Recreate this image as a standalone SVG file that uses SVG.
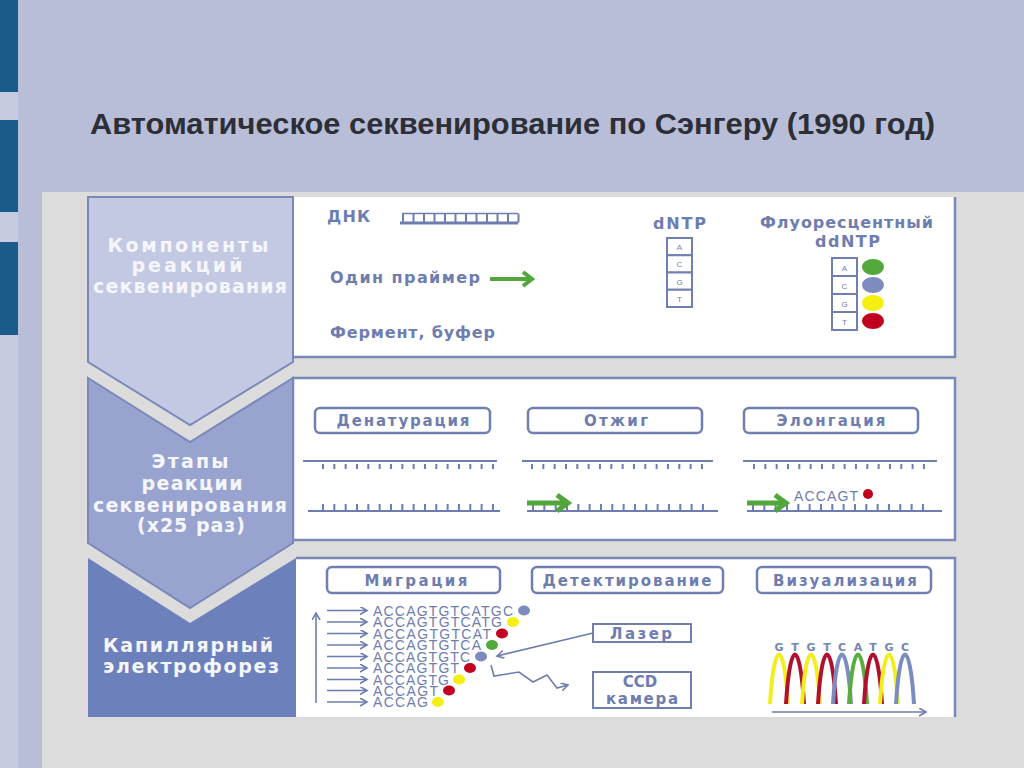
<svg xmlns="http://www.w3.org/2000/svg" width="1024" height="768" viewBox="0 0 1024 768">
<style>
.title{font-family:"Liberation Sans",Arial,sans-serif;font-weight:bold;font-size:29px;fill:#2d2f36}
.chev{font-family:"DejaVu Sans","Open Sans",sans-serif;font-weight:bold;font-size:19px;fill:#f5f6fb;text-anchor:middle}
.lbl{font-family:"DejaVu Sans","Open Sans",sans-serif;font-weight:bold;font-size:16px;fill:#6e7db0}
.btn{font-family:"DejaVu Sans","Open Sans",sans-serif;font-weight:bold;font-size:15px;fill:#6e7db0;text-anchor:middle}
.seq{font-family:"Liberation Sans",Arial,sans-serif;font-size:14px;fill:#6e7db0}
.small{font-family:"Liberation Sans",Arial,sans-serif;font-size:8px;fill:#6e7db0;text-anchor:middle}
.gl{font-family:"DejaVu Sans","Open Sans",sans-serif;font-weight:bold;font-size:11px;fill:#7584b5;text-anchor:middle}
.box{fill:#ffffff;stroke:#6f7fb1;stroke-width:2.5}
.strand{stroke:#6e7db0;stroke-width:2;fill:none}
.tick{stroke:#6e7db0;fill:none;stroke-dasharray:2 9.33}
.cell{fill:#ffffff;stroke:#6f7fb1;stroke-width:2}
.ar{stroke:#6e7db0;stroke-width:1.6;fill:none}
.grn{stroke:#52a63c;fill:none;stroke-linejoin:miter}
.peak{fill:none;stroke-width:4}
</style>
<defs>
<marker id="ah" markerUnits="userSpaceOnUse" markerWidth="10" markerHeight="10" refX="7" refY="4" orient="auto">
<path d="M0,0 L7,4 L0,8" fill="none" stroke="#6e7db0" stroke-width="1.6"/>
</marker>
</defs>
<!-- background -->
<rect x="0" y="0" width="1024" height="768" fill="#b9bed8"/>
<rect x="0" y="335" width="18" height="433" fill="#c6cbe0"/>
<rect x="0" y="0" width="18" height="92" fill="#1b5b8c"/>
<rect x="0" y="92" width="18" height="28" fill="#c6cbe0"/>
<rect x="0" y="120" width="18" height="92" fill="#1b5b8c"/>
<rect x="0" y="212" width="18" height="30" fill="#c6cbe0"/>
<rect x="0" y="242" width="18" height="93" fill="#1b5b8c"/>
<rect x="42" y="192" width="982" height="576" fill="#dcdcdc"/>
<text class="title" x="90" y="134" textLength="845" lengthAdjust="spacingAndGlyphs">Автоматическое секвенирование по Сэнгеру (1990 год)</text>

<!-- row 1 -->
<g id="row1">
<rect x="293" y="197" width="662" height="160" fill="#ffffff"/>
<path d="M955,197 V357 H293" fill="none" stroke="#7a88b9" stroke-width="2.5"/>
<path d="M88,197 L293,197 L293,362 L190,425 L88,362 Z" fill="#c4c9e3" stroke="#7a88b9" stroke-width="2"/>
<text class="chev" x="188" y="252" textLength="161" lengthAdjust="spacing">Компоненты</text>
<text class="chev" x="187" y="272" textLength="111" lengthAdjust="spacing">реакций</text>
<text class="chev" x="190" y="293" textLength="194" lengthAdjust="spacing">секвенирования</text>
</g>
<g id="dna-label">
<text class="lbl" x="327" y="222" font-size="14.5" textLength="43" lengthAdjust="spacing">ДНК</text>
<line x1="402" y1="213.5" x2="518" y2="213.5" stroke="#6e7db0" stroke-width="1.5"/>
<line x1="400" y1="223" x2="518" y2="223" stroke="#6e7db0" stroke-width="3"/>
<line x1="402" y1="218" x2="520" y2="218" stroke="#6e7db0" stroke-width="9" stroke-dasharray="2 8.5"/>
</g>
<g id="primer-label">
<text class="lbl" x="330" y="283" textLength="150" lengthAdjust="spacing">Один праймер</text>
<path class="grn" stroke-width="4" d="M490,279 H532 M523,272 L532,279 L523,286"/>
</g>
<g id="enzyme-label">
<text class="lbl" x="330" y="338" textLength="165" lengthAdjust="spacing">Фермент, буфер</text>
</g>
<g id="dntp">
<text class="lbl" x="653" y="229" textLength="53" lengthAdjust="spacing">dNTP</text>
<rect class="cell" x="667" y="238" width="25" height="17.25"/>
<rect class="cell" x="667" y="255.25" width="25" height="17.25"/>
<rect class="cell" x="667" y="272.5" width="25" height="17.25"/>
<rect class="cell" x="667" y="289.75" width="25" height="17.25"/>
<text class="small" x="679.5" y="250">A</text>
<text class="small" x="679.5" y="267">C</text>
<text class="small" x="679.5" y="284.5">G</text>
<text class="small" x="679.5" y="301.5">T</text>
</g>
<g id="ddntp">
<text class="lbl" x="760" y="228" textLength="173" lengthAdjust="spacing">Флуоресцентный</text>
<text class="lbl" x="815" y="247" textLength="65" lengthAdjust="spacing">ddNTP</text>
<rect class="cell" x="832" y="258" width="25" height="18"/>
<rect class="cell" x="832" y="276" width="25" height="18"/>
<rect class="cell" x="832" y="294" width="25" height="18"/>
<rect class="cell" x="832" y="312" width="25" height="18"/>
<text class="small" x="844.5" y="270.5">A</text>
<text class="small" x="844.5" y="288.5">C</text>
<text class="small" x="844.5" y="306.5">G</text>
<text class="small" x="844.5" y="324.5">T</text>
<ellipse cx="873" cy="267" rx="11" ry="8" fill="#52a83a"/>
<ellipse cx="873" cy="285" rx="11" ry="8" fill="#7d8bbf"/>
<ellipse cx="873" cy="303" rx="11" ry="8" fill="#f3ef10"/>
<ellipse cx="873" cy="321" rx="11" ry="8" fill="#c0001e"/>
</g>

<!-- row 2 -->
<g id="row2">
<rect x="293" y="378" width="662" height="162" fill="#ffffff" stroke="#7a88b9" stroke-width="2.5"/>
<path d="M88,378 L190,442 L293,378 L293,543 L190,608 L88,543 Z" fill="#98a4cf" stroke="#7a88b9" stroke-width="2"/>
<text class="chev" x="190" y="468" textLength="77" lengthAdjust="spacing">Этапы</text>
<text class="chev" x="192" y="490" textLength="101" lengthAdjust="spacing">реакции</text>
<text class="chev" x="190" y="512" textLength="194" lengthAdjust="spacing">секвенирования</text>
<text class="chev" x="191" y="532" textLength="108" lengthAdjust="spacing">(x25 раз)</text>
</g>
<g id="denat">
<rect class="box" x="315" y="408" width="175" height="25" rx="5"/>
<text class="btn" x="403" y="426" textLength="133" lengthAdjust="spacing">Денатурация</text>
<line class="strand" x1="303" y1="461" x2="497" y2="461"/>
<line class="tick" x1="322" y1="466.5" x2="494" y2="466.5" stroke-width="5"/>
<line class="strand" x1="308" y1="511" x2="500" y2="511"/>
<line class="tick" x1="322" y1="507" x2="494" y2="507" stroke-width="6"/>
</g>
<g id="anneal">
<rect class="box" x="528" y="408" width="174" height="25" rx="5"/>
<text class="btn" x="616" y="426" textLength="64" lengthAdjust="spacing">Отжиг</text>
<line class="strand" x1="522" y1="461" x2="713" y2="461"/>
<line class="tick" x1="531" y1="466.5" x2="704" y2="466.5" stroke-width="5"/>
<line class="strand" x1="527" y1="511" x2="718" y2="511"/>
<line class="tick" x1="532" y1="507" x2="706" y2="507" stroke-width="6"/>
<path class="grn" stroke-width="5" d="M527,503 H567 M557,495 L568,503 L557,511"/>
</g>
<g id="elong">
<rect class="box" x="744" y="408" width="174" height="25" rx="5"/>
<text class="btn" x="831" y="426" textLength="109" lengthAdjust="spacing">Элонгация</text>
<line class="strand" x1="743" y1="461" x2="937" y2="461"/>
<line class="tick" x1="753" y1="466.5" x2="927" y2="466.5" stroke-width="5"/>
<line class="strand" x1="747" y1="511" x2="942" y2="511"/>
<line class="tick" x1="752" y1="507" x2="927" y2="507" stroke-width="6"/>
<path class="grn" stroke-width="5" d="M747,503 H785 M775,495 L786,503 L775,511"/>
<text class="seq" x="794" y="501" font-size="13" textLength="64" lengthAdjust="spacing">ACCAGT</text>
<circle cx="868" cy="494" r="5" fill="#c0001e"/>
</g>

<!-- row 3 -->
<g id="row3">
<rect x="296" y="558" width="659" height="159" fill="#ffffff"/>
<path d="M296,558 H955 V717" fill="none" stroke="#7a88b9" stroke-width="2.5"/>
<path d="M88,558 L190,623 L296,558 L296,717 L88,717 Z" fill="#6c80bc"/>
<text class="chev" x="188" y="652" textLength="170" lengthAdjust="spacing">Капиллярный</text>
<text class="chev" x="191" y="673" textLength="176" lengthAdjust="spacing">электрофорез</text>
</g>
<g id="migr">
<rect class="box" x="327" y="567" width="173" height="26" rx="5"/>
<text class="btn" x="416" y="586" font-size="16" textLength="103" lengthAdjust="spacing">Миграция</text>
</g>
<g id="detect">
<rect class="box" x="532" y="567" width="191" height="26" rx="5"/>
<text class="btn" x="627" y="586" font-size="16" textLength="169" lengthAdjust="spacing">Детектирование</text>
</g>
<g id="visual">
<rect class="box" x="757" y="567" width="174" height="26" rx="5"/>
<text class="btn" x="845" y="586" font-size="16" textLength="144" lengthAdjust="spacing">Визуализация</text>
</g>
<g id="fragments">
<text class="seq" x="373" y="615.5" textLength="140" lengthAdjust="spacing">ACCAGTGTCATGC</text>
<text class="seq" x="373" y="627" textLength="129" lengthAdjust="spacing">ACCAGTGTCATG</text>
<text class="seq" x="373" y="638.5" textLength="118" lengthAdjust="spacing">ACCAGTGTCAT</text>
<text class="seq" x="373" y="650" textLength="108" lengthAdjust="spacing">ACCAGTGTCA</text>
<text class="seq" x="373" y="661.5" textLength="97" lengthAdjust="spacing">ACCAGTGTC</text>
<text class="seq" x="373" y="673" textLength="86" lengthAdjust="spacing">ACCAGTGT</text>
<text class="seq" x="373" y="684.5" textLength="76" lengthAdjust="spacing">ACCAGTG</text>
<text class="seq" x="373" y="695.5" textLength="65" lengthAdjust="spacing">ACCAGT</text>
<text class="seq" x="373" y="707" textLength="55" lengthAdjust="spacing">ACCAG</text>
<ellipse cx="524" cy="610.5" rx="6" ry="5" fill="#7d8bbf"/>
<ellipse cx="513" cy="622" rx="6" ry="5" fill="#f3ef10"/>
<ellipse cx="502" cy="633.5" rx="6" ry="5" fill="#c0001e"/>
<ellipse cx="492" cy="645" rx="6" ry="5" fill="#52a83a"/>
<ellipse cx="481" cy="656.5" rx="6" ry="5" fill="#7d8bbf"/>
<ellipse cx="470" cy="668" rx="6" ry="5" fill="#c0001e"/>
<ellipse cx="459" cy="679.5" rx="6" ry="5" fill="#f3ef10"/>
<ellipse cx="449" cy="690.5" rx="6" ry="5" fill="#c0001e"/>
<ellipse cx="438" cy="702" rx="6" ry="5" fill="#f3ef10"/>
</g>
<g id="laser">
<rect x="593" y="624" width="98" height="18" fill="#ffffff" stroke="#6f7fb1" stroke-width="2"/>
<text class="btn" x="641" y="638.5" font-size="16" textLength="62" lengthAdjust="spacing">Лазер</text>
</g>
<g id="ccd">
<rect x="593" y="672" width="98" height="36" fill="#ffffff" stroke="#6f7fb1" stroke-width="2"/>
<text class="btn" x="640" y="686.5" font-size="16" font-weight="normal">CCD</text>
<text class="btn" x="642" y="703.5" font-size="16" textLength="72" lengthAdjust="spacing">камера</text>
</g>
<g id="chromatogram">
<text class="gl" x="779" y="651">G</text>
<text class="gl" x="795" y="651">T</text>
<text class="gl" x="811" y="651">G</text>
<text class="gl" x="827" y="651">T</text>
<text class="gl" x="842" y="651">C</text>
<text class="gl" x="858" y="651">A</text>
<text class="gl" x="873" y="651">T</text>
<text class="gl" x="889" y="651">G</text>
<text class="gl" x="905" y="651">C</text>
<path class="peak" stroke="#f2ee1e" d="M770,704 C774,638 784,638 788,704"/>
<path class="peak" stroke="#b0102e" d="M786,704 C790,638 800,638 804,704"/>
<path class="peak" stroke="#f2ee1e" d="M802,704 C806,638 816,638 820,704"/>
<path class="peak" stroke="#b0102e" d="M818,704 C822,638 832,638 836,704"/>
<path class="peak" stroke="#7b8cc0" d="M833,704 C837,638 847,638 851,704"/>
<path class="peak" stroke="#5aab40" d="M849,704 C853,638 863,638 867,704"/>
<path class="peak" stroke="#b0102e" d="M864,704 C868,638 878,638 882,704"/>
<path class="peak" stroke="#f2ee1e" d="M880,704 C884,638 894,638 898,704"/>
<path class="peak" stroke="#7b8cc0" d="M896,704 C900,638 910,638 914,704"/>
</g>
<g id="connectors">
<line class="ar" x1="316" y1="703" x2="316" y2="613" marker-end="url(#ah)"/>
<line class="ar" x1="327" y1="610.5" x2="367" y2="610.5" marker-end="url(#ah)"/>
<line class="ar" x1="327" y1="622" x2="367" y2="622" marker-end="url(#ah)"/>
<line class="ar" x1="327" y1="633.5" x2="367" y2="633.5" marker-end="url(#ah)"/>
<line class="ar" x1="327" y1="645" x2="367" y2="645" marker-end="url(#ah)"/>
<line class="ar" x1="327" y1="656.5" x2="367" y2="656.5" marker-end="url(#ah)"/>
<line class="ar" x1="327" y1="668" x2="367" y2="668" marker-end="url(#ah)"/>
<line class="ar" x1="327" y1="679.5" x2="367" y2="679.5" marker-end="url(#ah)"/>
<line class="ar" x1="327" y1="690.5" x2="367" y2="690.5" marker-end="url(#ah)"/>
<line class="ar" x1="327" y1="702" x2="367" y2="702" marker-end="url(#ah)"/>
<line class="ar" x1="593" y1="633" x2="497" y2="656" marker-end="url(#ah)"/>
<path class="ar" d="M491,665 L494,676 L519,672 L533,682 L547,675 L557,688 L568,685" marker-end="url(#ah)"/>
<line class="ar" x1="772" y1="712" x2="926" y2="712" marker-end="url(#ah)"/>
</g>
</svg>
